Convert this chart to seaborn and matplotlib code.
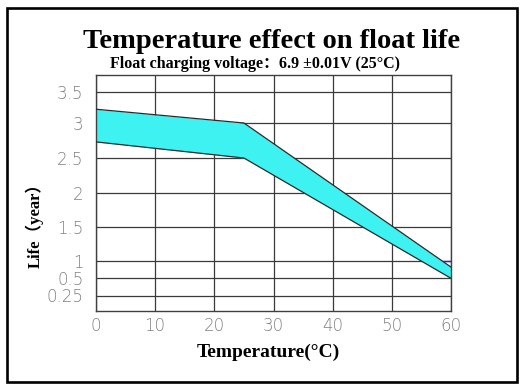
import numpy as np
import pandas as pd
import matplotlib
matplotlib.use("Agg")
import matplotlib.pyplot as plt
from matplotlib.patches import Rectangle
import seaborn as sns

# ---- data ----
temps = [0, 25, 60]
life_upper = [3.22, 3.0, 0.82]
life_lower = [2.73, 2.5, 0.5]
blue_x = [58.6, 60]
blue_y = [1.0, 1.0]
x_ticks = [0, 10, 20, 30, 40, 50, 60]
y_ticks = [0.25, 0.5, 1, 1.5, 2, 2.5, 3, 3.5]
y_tick_labels = ["0.25", "0.5", "1", "1.5", "2", "2.5", "3", "3.5"]

# non-linear y axis of the original chart (value -> relative position)
scale_vals = [0, 0.25, 0.5, 1, 1.5, 2, 2.5, 3, 3.5, 3.75]
scale_pos = [0, 15.5, 32.7, 50.2, 84, 118.5, 153, 188, 219.3, 236]


def fwd(v):
    return np.interp(v, scale_vals, scale_pos)


def inv(p):
    return np.interp(p, scale_pos, scale_vals)


sns.set_theme(style="white")
plt.rcParams["font.family"] = ["DejaVu Sans"]

W, H = 526, 392
fig = plt.figure(figsize=(W / 100, H / 100), dpi=100)
fig.patch.set_facecolor("white")
ax = fig.add_axes([96 / W, (H - 311) / H, 355 / W, 236 / H])

df = pd.DataFrame({
    "Temperature": temps + temps,
    "Life": life_upper + life_lower,
    "edge": ["upper"] * len(temps) + ["lower"] * len(temps),
})

ax.fill_between(temps, life_lower, life_upper, color="#3ff2f2", lw=0, zorder=2)
sns.lineplot(data=df, x="Temperature", y="Life", units="edge", estimator=None,
             sort=False, color="#2a2a2a", lw=0.9, ax=ax, legend=False, zorder=3)
sns.lineplot(x=blue_x, y=blue_y, color="#2020e0", lw=1.0, ax=ax, zorder=3)

ax.set_yscale("function", functions=(fwd, inv))
ax.set_xlim(0, 60)
ax.set_ylim(0, 3.75)
ax.set_xticks(x_ticks)
ax.set_xticklabels([str(t) for t in x_ticks])
ax.set_yticks(y_ticks)
ax.set_yticklabels(y_tick_labels)
ax.minorticks_off()
ax.set_xlabel("")
ax.set_ylabel("")
ax.set_axisbelow(True)
ax.grid(True, color="#3a3a3a", lw=0.9)
for s in ax.spines.values():
    s.set_visible(True)
    s.set_color("#404040")
    s.set_linewidth(1.0)

ax.tick_params(axis="both", length=0, labelcolor="#808080", labelsize=12)
ax.tick_params(axis="y", pad=9)
ax.tick_params(axis="x", pad=4)
for lab in ax.get_xticklabels() + ax.get_yticklabels():
    lab.set_fontweight("light")

serif_bold = dict(family=["Liberation Serif", "Noto Sans CJK SC"], fontweight="bold", color="black")

fig.text(272 / W, (H - 47.7) / H, "Temperature effect on float life",
         ha="center", va="baseline", fontsize=20.5, **serif_bold)
fig.text(110 / W, (H - 68.3) / H, "Float charging voltage：6.9 ±0.01V (25°C)",
         ha="left", va="baseline", fontsize=11.5, **serif_bold)
fig.text(268 / W, (H - 356.7) / H, "Temperature(°C)",
         ha="center", va="baseline", fontsize=14, **serif_bold)
fig.text(35 / W, (H - 221) / H, "Life（year）", rotation=90,
         ha="center", va="center", fontsize=12, **serif_bold)

fig.patches.append(Rectangle((7 / W, (H - 382) / H), 510 / W, 374 / H,
                             transform=fig.transFigure, fill=False,
                             edgecolor="black", lw=1.9))

fig.savefig("out.png", dpi=100)
